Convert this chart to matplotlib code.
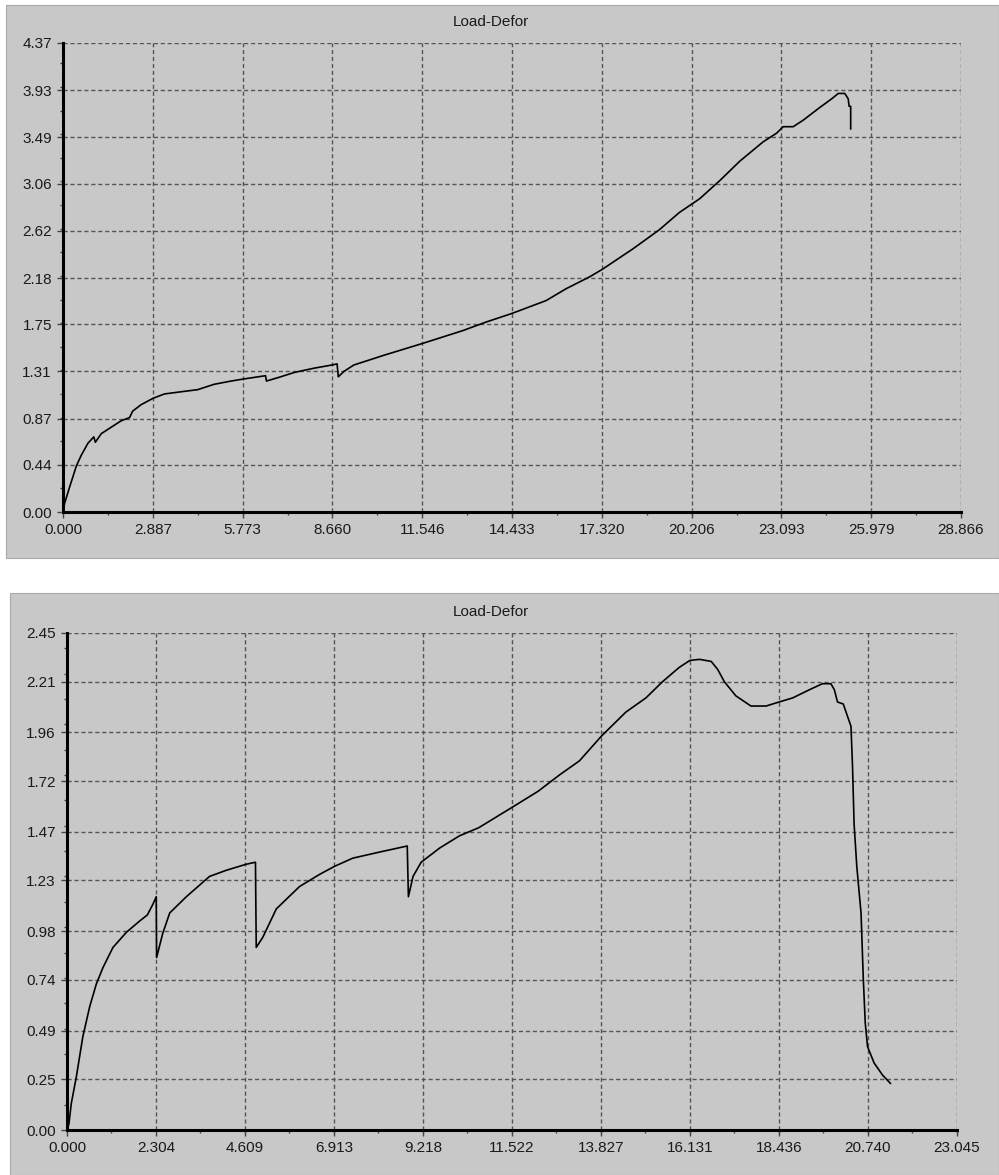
import matplotlib.pyplot as plt
from matplotlib.patches import Rectangle
from matplotlib.ticker import FixedLocator, AutoMinorLocator

# top test: load vs deformation
top_x = [0, 0.05, 0.21, 0.43, 0.59, 0.80, 0.99, 1.04, 1.23, 1.55, 1.87, 2.14, 2.24, 2.51,
         2.90, 3.26, 3.79, 4.33, 4.86, 5.40, 5.82, 6.51, 6.54, 7.00, 7.43, 8.07, 8.65, 8.81,
         8.85, 9.03, 9.35, 9.78, 10.31, 11.55, 12.85, 13.60, 14.43, 15.53, 16.17, 16.92,
         17.33, 18.31, 19.17, 19.81, 20.47, 21.12, 21.76, 22.51, 22.94, 23.15, 23.47, 23.79,
         24.33, 24.71, 24.92, 25.13, 25.24, 25.27, 25.32, 25.32]
top_y = [0, 0.08, 0.23, 0.43, 0.53, 0.64, 0.70, 0.65, 0.73, 0.79, 0.85, 0.88, 0.94, 1.00,
         1.06, 1.10, 1.12, 1.14, 1.19, 1.22, 1.24, 1.27, 1.22, 1.26, 1.30, 1.34, 1.37, 1.38,
         1.26, 1.31, 1.37, 1.41, 1.46, 1.57, 1.69, 1.77, 1.85, 1.97, 2.08, 2.19,
         2.26, 2.45, 2.63, 2.79, 2.92, 3.09, 3.27, 3.45, 3.53, 3.59, 3.59, 3.65,
         3.77, 3.85, 3.90, 3.90, 3.85, 3.78, 3.78, 3.57]
top_xticks = ["0.000", "2.887", "5.773", "8.660", "11.546", "14.433", "17.320", "20.206",
              "23.093", "25.979", "28.866"]
top_yticks = ["0.00", "0.44", "0.87", "1.31", "1.75", "2.18", "2.62", "3.06", "3.49",
              "3.93", "4.37"]

# bottom test
bot_x = [0, 0.05, 0.11, 0.24, 0.41, 0.59, 0.76, 0.93, 1.19, 1.54, 1.88, 2.08, 2.23, 2.31,
         2.32, 2.48, 2.66, 3.09, 3.69, 4.12, 4.64, 4.88, 4.90, 5.07, 5.42, 6.02, 6.54, 6.93,
         7.40, 8.09, 8.81, 8.84, 8.96, 9.17, 9.65, 10.16, 10.66, 11.52, 12.20, 12.75, 13.27,
         13.83, 14.47, 14.99, 15.42, 15.85, 16.13, 16.38, 16.68, 16.85, 17.02, 17.32, 17.71,
         18.10, 18.44, 18.79, 19.22, 19.56, 19.78, 19.87, 19.95, 20.10, 20.30, 20.34, 20.38,
         20.45, 20.56, 20.62, 20.67, 20.73, 20.90, 21.12, 21.32]
bot_y = [0, 0.03, 0.13, 0.26, 0.46, 0.61, 0.72, 0.80, 0.90, 0.975, 1.03, 1.06, 1.115, 1.15,
         0.85, 0.97, 1.07, 1.15, 1.25, 1.28, 1.31, 1.32, 0.90, 0.95, 1.09, 1.20, 1.26, 1.30,
         1.34, 1.37, 1.40, 1.15, 1.25, 1.32, 1.39, 1.45, 1.49, 1.59, 1.67, 1.75, 1.82,
         1.94, 2.06, 2.13, 2.21, 2.28, 2.315, 2.32, 2.31, 2.27, 2.21, 2.14, 2.09,
         2.09, 2.11, 2.13, 2.17, 2.20, 2.20, 2.17, 2.11, 2.10, 1.99, 1.79, 1.51,
         1.30, 1.07, 0.74, 0.525, 0.41, 0.33, 0.27, 0.23]
bot_xticks = ["0.000", "2.304", "4.609", "6.913", "9.218", "11.522", "13.827", "16.131",
              "18.436", "20.740", "23.045"]
bot_yticks = ["0.00", "0.25", "0.49", "0.74", "0.98", "1.23", "1.47", "1.72", "1.96",
              "2.21", "2.45"]

title = "Load-Defor"
panel_gray = "#c8c8c8"

plt.rcParams['font.family'] = ['Liberation Sans', 'DejaVu Sans']
plt.rcParams['font.size'] = 11

W, H = 999, 1175
fig = plt.figure(figsize=(W / 100, H / 100), dpi=100, facecolor="white")

# gray panel boxes (pixel coords: x0, y0_top, x1, y1_bottom)
for x0, y0, x1, y1 in [(6, 5, 999, 558), (10, 593, 999, 1175)]:
    fig.patches.append(Rectangle((x0 / W, 1 - y1 / H), (x1 - x0) / W, (y1 - y0) / H,
                                 transform=fig.transFigure, facecolor=panel_gray,
                                 edgecolor="#a8a8a8", linewidth=0.8, zorder=-10))


def draw_panel(rect, xs, ys, xlabels, ylabels, title_y):
    ax = fig.add_axes(rect)
    ax.set_zorder(1)
    ax.set_facecolor("none")
    xvals = [float(v) for v in xlabels]
    yvals = [float(v) for v in ylabels]
    ax.plot(xs, ys, color="black", linewidth=1.2, zorder=3)
    ax.set_xlim(xvals[0], xvals[-1])
    ax.set_ylim(yvals[0], yvals[-1])
    ax.xaxis.set_major_locator(FixedLocator(xvals))
    ax.yaxis.set_major_locator(FixedLocator(yvals))
    ax.set_xticklabels(xlabels)
    ax.set_yticklabels(ylabels)
    ax.xaxis.set_minor_locator(AutoMinorLocator(2))
    ax.yaxis.set_minor_locator(AutoMinorLocator(2))
    ax.grid(True, which="major", color="#555555", linestyle=(0, (3, 2)), linewidth=1.0)
    ax.tick_params(which="major", length=4, width=1, color="#444444", labelcolor="#1a1a1a",
                   pad=4)
    ax.tick_params(which="minor", length=2, width=1, color="#444444")
    for s in ["top", "right"]:
        ax.spines[s].set_visible(False)
    for s in ["left", "bottom"]:
        ax.spines[s].set_linewidth(2.2)
        ax.spines[s].set_color("black")
    fig.text(491 / W, 1 - title_y / H, title, ha="center", va="center", color="#1a1a1a",
             fontsize=11)
    return ax


draw_panel([63 / W, 1 - 512 / H, (961 - 63) / W, (512 - 43) / H],
           top_x, top_y, top_xticks, top_yticks, 22)
draw_panel([67 / W, 1 - 1130 / H, (957 - 67) / W, (1130 - 633) / H],
           bot_x, bot_y, bot_xticks, bot_yticks, 612)

plt.savefig("out.png", dpi=100, facecolor="white")
